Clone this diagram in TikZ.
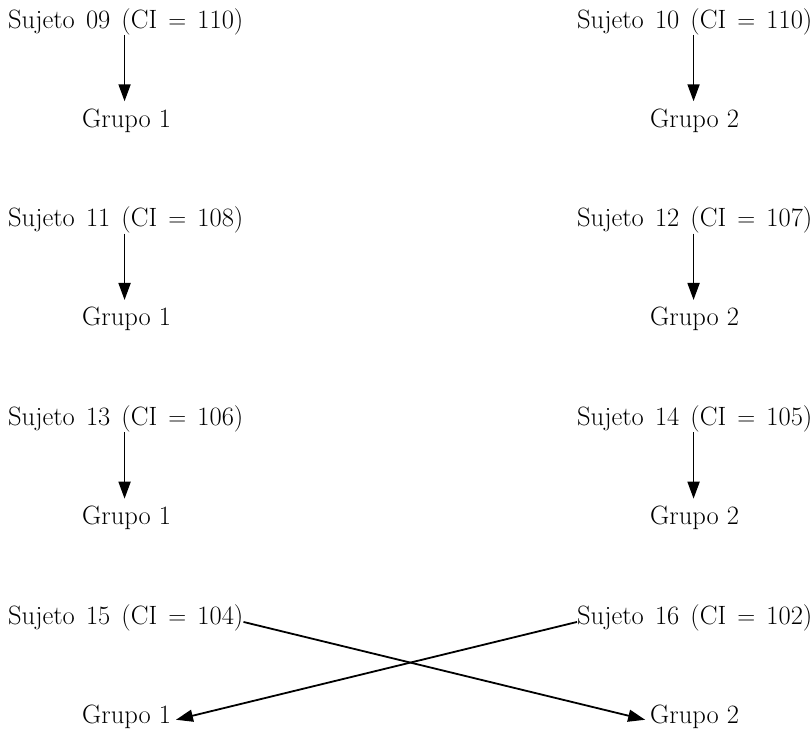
\documentclass[tikz,border=0pt]{standalone}
\usetikzlibrary{arrows.meta}
\newcommand\lblfont{\fontsize{26.5}{30}\selectfont\spaceskip 0.42em\relax}
\newcommand\grpfont{\fontsize{26.5}{30}\selectfont}
\begin{document}
\begin{tikzpicture}[x=1pt,y=-1pt,
  lbl/.style={anchor=base west,inner sep=0pt,font=\lblfont},
  grp/.style={anchor=base west,inner sep=0pt,font=\grpfont},
  arr/.style={line width=1.8pt,-{Triangle[length=17pt,width=12pt]}}]
\useasboundingbox (0,0) rectangle (811,732);
\foreach \r/\sa/\sb/\ca/\cb in {0/09/10/110/110,1/11/12/108/107,2/13/14/106/105,3/15/16/104/102}{
  \pgfmathsetmacro{\ys}{28+198.7*\r}
  \pgfmathsetmacro{\yg}{127+198.7*\r}
  \node[lbl] (sL\r) at (8,\ys) {Sujeto \sa{} (CI $=$ \ca)};
  \node[lbl] (sR\r) at (577,\ys) {Sujeto \sb{} (CI $=$ \cb)};
  \node[grp] (gL\r) at (82,\yg) {Grupo 1};
  \node[grp] (gR\r) at (650,\yg) {Grupo 2};
}
\foreach \r in {0,1,2}{
  \draw[arr,shorten >=7pt] ([xshift=-2pt]gL\r.north |- sL\r.south) -- ([xshift=-2pt]gL\r.north);
  \draw[arr,shorten >=7pt] ([xshift=-1pt]gR\r.north |- sR\r.south) -- ([xshift=-1pt]gR\r.north);
}
\draw[arr,shorten >=5pt] (sL3.mid east) -- (gR3.mid west);
\draw[arr,shorten >=5pt] (sR3.mid west) -- (gL3.mid east);
\end{tikzpicture}
\end{document}
